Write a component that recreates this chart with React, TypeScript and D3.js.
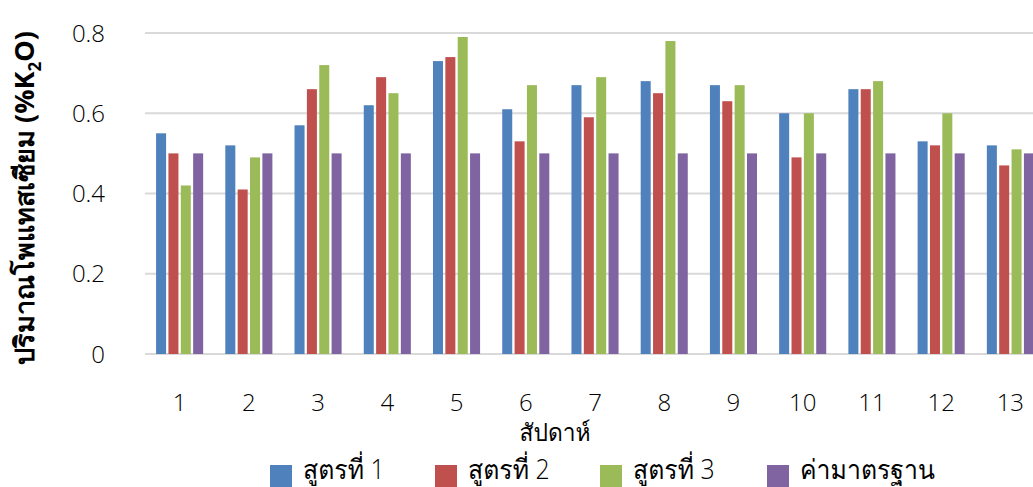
import React from "react";
import * as d3 from "d3";

const categories = ["1","2","3","4","5","6","7","8","9","10","11","12","13"];
const seriesNames = ["สูตรที่ 1", "สูตรที่ 2", "สูตรที่ 3", "ค่ามาตรฐาน"];
const formula1 = [0.55,0.52,0.57,0.62,0.73,0.61,0.67,0.68,0.67,0.60,0.66,0.53,0.52];
const formula2 = [0.50,0.41,0.66,0.69,0.74,0.53,0.59,0.65,0.63,0.49,0.66,0.52,0.47];
const formula3 = [0.42,0.49,0.72,0.65,0.79,0.67,0.69,0.78,0.67,0.60,0.68,0.60,0.51];
const standard = [0.50,0.50,0.50,0.50,0.50,0.50,0.50,0.50,0.50,0.50,0.50,0.50,0.50];
const yTicks = [0, 0.2, 0.4, 0.6, 0.8];
const colors = ["#4f81bd", "#c0504d", "#9bbb59", "#8064a2"];

const allSeries = [formula1, formula2, formula3, standard];

export default function App() {
  const W = 1033, H = 487;
  const x = d3.scaleBand().domain(categories).range([145, 1045]).paddingInner(0.32).paddingOuter(0.16);
  const xs = d3.scaleBand().domain(seriesNames).range([0, x.bandwidth()]).paddingInner(0.19);
  const y = d3.scaleLinear().domain([0, 0.8]).range([354, 33]);
  const font = "'Open Sans', 'Noto Sans', sans-serif";
  const thaiFont = "'Open Sans', 'Loma', 'Garuda', 'Umpush', 'Noto Sans Thai', sans-serif";
  const legendX = [270, 435, 600, 767];
  return (
    <svg width={W} height={H} style={{ position: "absolute", left: 0, top: 0 }} fontFamily={font}>
      {yTicks.map((t) => (
        <g key={t}>
          <line x1={145} x2={W} y1={y(t)} y2={y(t)} stroke="#d9d9d9" strokeWidth={2} />
          <text x={105} y={y(t)} dy="0.36em" textAnchor="end" fontSize={24} fontWeight={300} fill="#000">
            {t === 0 ? "0" : d3.format(".1f")(t)}
          </text>
        </g>
      ))}
      {allSeries.map((s, si) =>
        s.map((v, ci) => (
          <rect
            key={si + "-" + ci}
            x={(x(categories[ci]) as number) + (xs(seriesNames[si]) as number)}
            y={y(v)}
            width={xs.bandwidth()}
            height={y(0) - y(v)}
            fill={colors[si]}
          />
        ))
      )}
      {categories.map((c) => (
        <text key={c} x={(x(c) as number) + x.bandwidth() / 2} y={402} dy="0.36em" textAnchor="middle" fontSize={24} fontWeight={300} fill="#000">
          {c}
        </text>
      ))}
      <text transform="translate(555,441) scale(0.95,1)" textAnchor="middle" fontSize={24} fontWeight={300} fontFamily={thaiFont} fill="#000">สัปดาห์</text>
      <text transform="translate(25,198) rotate(-90)" textAnchor="middle" dy="0.35em" fontSize={27} fontWeight="bold" fill="#000">
        ปริมาณโพแทสเซียม (%K<tspan fontSize={17} dy="7">2</tspan><tspan dy="-7">O)</tspan>
      </text>
      {seriesNames.map((n, i) => (
        <g key={n}>
          <rect x={legendX[i]} y={465} width={22} height={22} fill={colors[i]} />
          <text transform={`translate(${legendX[i] + 33},479) scale(0.92,1)`} fontSize={27} fontWeight={300} fontFamily={thaiFont} fill="#000">{n}</text>
        </g>
      ))}
    </svg>
  );
}
